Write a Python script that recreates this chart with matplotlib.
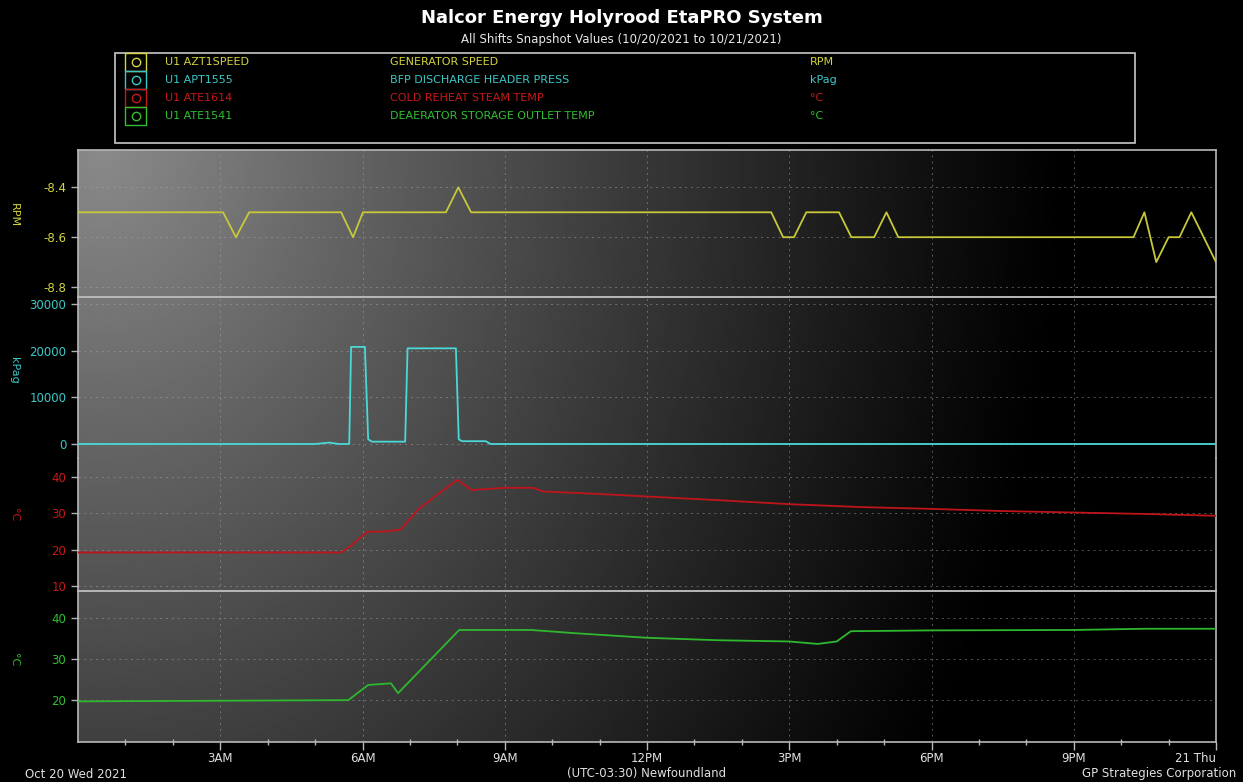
import numpy as np
import matplotlib
matplotlib.use("Agg")
import matplotlib.pyplot as plt
from matplotlib.patches import Rectangle
from matplotlib.lines import Line2D

# ---- data (hours since Oct 20 00:00) ----
rpm_t = [0, 3.06, 3.33, 3.61, 5.55, 5.80, 6.01, 7.76, 8.02, 8.29, 14.62, 14.87, 15.10,
         15.36, 16.05, 16.31, 16.79, 17.05, 17.30, 22.26, 22.49, 22.74, 23.00, 23.23, 23.48, 24.0]
rpm_v = [-8.5, -8.5, -8.6, -8.5, -8.5, -8.6, -8.5, -8.5, -8.4, -8.5, -8.5, -8.6, -8.6,
         -8.5, -8.5, -8.6, -8.6, -8.5, -8.6, -8.6, -8.5, -8.7, -8.6, -8.6, -8.5, -8.7]

press_t = [0, 5.0, 5.3, 5.5, 5.72, 5.76, 6.05, 6.12, 6.2, 6.9, 6.95, 7.97, 8.03, 8.1, 8.6, 8.7, 24]
press_v = [0, 0, 300, 0, 0, 20800, 20800, 1000, 500, 500, 20500, 20500, 1000, 600, 600, 0, 0]

reheat_t = [0, 5.55, 5.75, 6.1, 6.5, 6.8, 7.17, 7.66, 8.0, 8.3, 9.0, 9.6, 9.8, 11.0, 12.0,
            13.5, 15.0, 16.5, 18.0, 19.5, 21.0, 22.5, 24.0]
reheat_v = [19.2, 19.2, 21.0, 24.9, 25.0, 25.5, 31.0, 35.9, 39.2, 36.4, 37.0, 37.0, 36.0, 35.3, 34.6,
            33.6, 32.5, 31.7, 31.2, 30.6, 30.2, 29.8, 29.3]

dea_t = [0, 5.7, 6.12, 6.6, 6.75, 8.04, 9.56, 10.5, 12.0, 13.5, 15.0, 15.6, 16.0, 16.3,
         18.0, 21.0, 22.5, 24.0]
dea_v = [19.7, 20.0, 23.7, 24.1, 21.7, 37.1, 37.1, 36.3, 35.2, 34.6, 34.3, 33.7, 34.3, 36.8,
         37.0, 37.1, 37.4, 37.4]

tags = ['U1 AZT1SPEED', 'U1 APT1555', 'U1 ATE1614', 'U1 ATE1541']
descs = ['GENERATOR SPEED', 'BFP DISCHARGE HEADER PRESS', 'COLD REHEAT STEAM TEMP',
         'DEAERATOR STORAGE OUTLET TEMP']
units = ['RPM', 'kPag', '°C', '°C']
xtick_labels = ['3AM', '6AM', '9AM', '12PM', '3PM', '6PM', '9PM', '21 Thu']

colors = ['#c8c83a', '#4ad8d8', '#c0141c', '#2eb82e']
text_colors = ['#d4d43c', '#3cc8c8', '#c81818', '#30c030']

W, H = 1243, 782
fig = plt.figure(figsize=(W / 100, H / 100), dpi=100, facecolor='black')

def fx(px):
    return px / W

def fy(py):
    return 1 - py / H

L, R = fx(78), fx(1216)
edges = [150, 297, 458, 591, 742]

# background gradient
bg = fig.add_axes([L, fy(742), R - L, fy(150) - fy(742)])
gx, gy = np.meshgrid(np.linspace(0, 1, 400), np.linspace(0, 1, 200))
d = np.sqrt(((gx - 0.02) / 0.85) ** 2 + (gy / 2.0) ** 2)
img = 0.54 * np.clip(1 - d, 0, 1) ** 1.1
bg.imshow(img, cmap='gray', vmin=0, vmax=1, aspect='auto', extent=(0, 1, 1, 0))
bg.axis('off')

panels = [
    (rpm_t, rpm_v, (-8.84, -8.25), [-8.8, -8.6, -8.4], ['-8.8', '-8.6', '-8.4']),
    (press_t, press_v, (-3000, 31500), [0, 10000, 20000, 30000], ['0', '10000', '20000', '30000']),
    (reheat_t, reheat_v, (8.6, 45.2), [10, 20, 30, 40], ['10', '20', '30', '40']),
    (dea_t, dea_v, (9.8, 46.6), [20, 30, 40], ['20', '30', '40']),
]

frame_col = '#b8b8b8'
axes = []
for i, (t, v, ylim, yt, ytl) in enumerate(panels):
    top, bot = edges[i], edges[i + 1]
    ax = fig.add_axes([L, fy(bot), R - L, fy(top) - fy(bot)], facecolor='none')
    ax.plot(t, v, color=colors[i], lw=1.3, zorder=3)
    ax.set_xlim(0, 24)
    ax.set_ylim(*ylim)
    ax.set_yticks(yt)
    ax.set_yticklabels(ytl)
    ax.tick_params(axis='y', colors='#b0b0b0', labelcolor=text_colors[i], labelsize=8.5,
                   length=5, width=1)
    ax.set_xticks(range(3, 25, 3))
    ax.set_xticks(range(1, 24), minor=True)
    for y in yt:
        ax.axhline(y, color='#a8a8a8', lw=0.7, ls=(0, (2, 4)), alpha=0.5, zorder=1)
    for x in range(3, 24, 3):
        ax.axvline(x, color='#a8a8a8', lw=0.7, ls=(0, (2, 4)), alpha=0.5, zorder=1)
    for s in ax.spines.values():
        s.set_color(frame_col)
        s.set_linewidth(1.2)
    if i == 2:
        ax.spines['top'].set_visible(False)
    if i == 1:
        ax.spines['bottom'].set_visible(False)
    if i < 3:
        ax.tick_params(axis='x', which='both', length=0, labelbottom=False)
    else:
        ax.set_xticklabels(xtick_labels)
        ax.tick_params(axis='x', which='major', colors=frame_col, labelcolor='#e0e0e0',
                       labelsize=8.5, length=6, width=1, pad=1.5)
        ax.tick_params(axis='x', which='minor', colors=frame_col, length=4, width=1,
                       direction='inout')
        ax.get_xticklabels()[-1].set_horizontalalignment('right')
    axes.append(ax)

# y axis labels
for py, lab, c in zip([215, 370, 515, 660], units, text_colors):
    fig.text(fx(14), fy(py), lab, rotation=-90, color=c, fontsize=8, ha='center', va='center')

# title
fig.text(0.5, fy(18), 'Nalcor Energy Holyrood EtaPRO System', color='white', fontsize=13,
         fontweight='bold', ha='center', va='center')
fig.text(0.5, fy(40), 'All Shifts Snapshot Values (10/20/2021 to 10/21/2021)', color='#e8e8e8',
         fontsize=8.5, ha='center', va='center')

# legend box
fig.patches.append(Rectangle((fx(115), fy(143)), fx(1135) - fx(115), fy(53) - fy(143),
                             transform=fig.transFigure, fill=False, edgecolor='#c8c8c8', lw=1.2))
rows = [62, 80, 98, 116]
for py, tg, ds, un, c in zip(rows, tags, descs, units, text_colors):
    fig.patches.append(Rectangle((fx(125), fy(py + 9)), fx(146) - fx(125), fy(py - 9) - fy(py + 9),
                                 transform=fig.transFigure, fill=False, edgecolor=c, lw=1))
    fig.add_artist(Line2D([fx(135.5)], [fy(py)], marker='o', markersize=6, markerfacecolor='none',
                          markeredgecolor=c, transform=fig.transFigure))
    fig.text(fx(165), fy(py), tg, color=c, fontsize=8, va='center')
    fig.text(fx(390), fy(py), ds, color=c, fontsize=8, va='center')
    fig.text(fx(810), fy(py), un, color=c, fontsize=8, va='center')

# footer
fig.text(fx(25), fy(774), 'Oct 20 Wed 2021', color='#e0e0e0', fontsize=8.5, va='center')
fig.text(fx(647), fy(774), '(UTC-03:30) Newfoundland', color='#e0e0e0', fontsize=8.5,
         ha='center', va='center')
fig.text(fx(1236), fy(774), 'GP Strategies Corporation', color='#e0e0e0', fontsize=8.5,
         ha='right', va='center')

fig.savefig('out.png', dpi=100, facecolor='black')
